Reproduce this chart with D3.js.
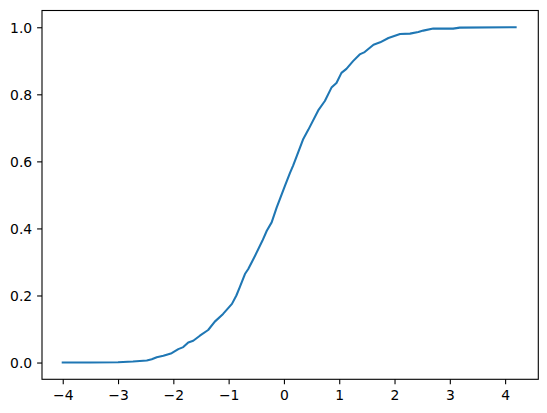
<!DOCTYPE html>
<html>
<head>
<meta charset="utf-8">
<script src="https://cdn.jsdelivr.net/npm/d3@7"></script>
<style>
  html, body { margin: 0; padding: 0; background: #fff; }
  svg { display: block; }
  text { font-family: "DejaVu Sans", sans-serif; font-size: 13.9px; fill: #000; }
</style>
</head>
<body>
<script>
// Data
const xValues = [-4.0, -3.5, -3.0, -2.73, -2.48, -2.39, -2.30, -2.18, -2.03, -1.91, -1.82, -1.73, -1.64, -1.52, -1.37, -1.25, -1.10, -0.94, -0.86, -0.80, -0.705, -0.645, -0.524, -0.39, -0.31, -0.222, -0.132, 0.018, 0.108, 0.168, 0.23, 0.35, 0.44, 0.62, 0.74, 0.86, 0.95, 1.04, 1.13, 1.25, 1.37, 1.46, 1.62, 1.74, 1.89, 2.10, 2.28, 2.43, 2.52, 2.70, 3.06, 3.18, 4.19];
const yValues = [0, 0, 0.001, 0.003, 0.006, 0.01, 0.016, 0.02, 0.028, 0.04, 0.046, 0.06, 0.065, 0.08, 0.097, 0.122, 0.145, 0.175, 0.2, 0.224, 0.264, 0.279, 0.318, 0.363, 0.393, 0.418, 0.462, 0.527, 0.565, 0.588, 0.615, 0.667, 0.694, 0.752, 0.78, 0.82, 0.834, 0.864, 0.876, 0.899, 0.919, 0.926, 0.948, 0.955, 0.968, 0.98, 0.981, 0.986, 0.99, 0.996, 0.996, 0.999, 1.0];
const xTicks = [-4, -3, -2, -1, 0, 1, 2, 3, 4];
const yTicks = [0.0, 0.2, 0.4, 0.6, 0.8, 1.0];

const W = 547, H = 413;
const mLeft = 42, mTop = 10.5, mRight = 538.3, mBottom = 379.3;

const svg = d3.select("body").append("svg").attr("width", W).attr("height", H);

const x = d3.scaleLinear().domain([-4.375, 4.6]).range([mLeft, mRight]);
const y = d3.scaleLinear().domain([-0.05, 1.05]).range([mBottom, mTop]);

const fmtX = d => (d < 0 ? "\u2212" + Math.abs(d) : String(d));
const fmtY = d => d.toFixed(1);

const xAxis = d3.axisBottom(x).tickValues(xTicks).tickFormat(fmtX).tickSizeInner(4.9).tickSizeOuter(0).tickPadding(4.9);
const yAxis = d3.axisLeft(y).tickValues(yTicks).tickFormat(fmtY).tickSizeInner(4.9).tickSizeOuter(0).tickPadding(4.9);

const gx = svg.append("g").attr("transform", `translate(0,${mBottom})`).call(xAxis);
const gy = svg.append("g").attr("transform", `translate(${mLeft},0)`).call(yAxis);

[gx, gy].forEach(g => {
  g.select(".domain").remove();
  g.selectAll(".tick line").attr("stroke", "#000").attr("stroke-width", 1.1);
  g.selectAll(".tick text").attr("font-family", "DejaVu Sans, sans-serif").attr("font-size", 13.9).attr("fill", "#000");
});
gx.selectAll(".tick text").attr("dy", "0.76em");
gy.selectAll(".tick text").attr("dy", "0.35em");

// curve
const line = d3.line().x((d, i) => x(xValues[i])).y((d, i) => y(yValues[i]));
svg.append("path")
  .datum(yValues)
  .attr("d", line)
  .attr("fill", "none")
  .attr("stroke", "#1f77b4")
  .attr("stroke-width", 2.08)
  .attr("stroke-linejoin", "round")
  .attr("stroke-linecap", "square");

// frame
svg.append("rect")
  .attr("x", mLeft).attr("y", mTop)
  .attr("width", mRight - mLeft).attr("height", mBottom - mTop)
  .attr("fill", "none").attr("stroke", "#000").attr("stroke-width", 1.1);
</script>
</body>
</html>
